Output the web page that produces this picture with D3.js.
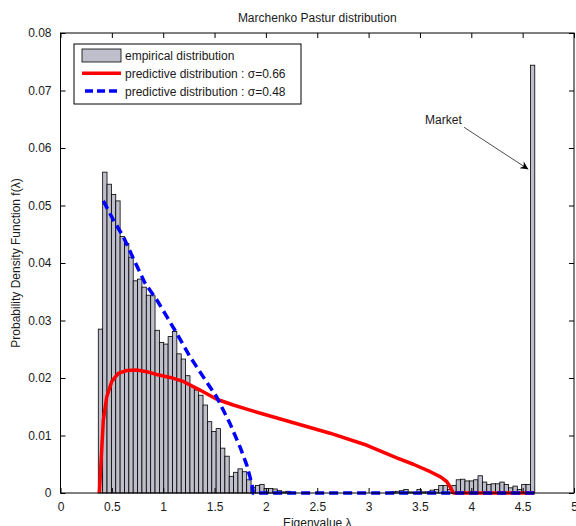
<!DOCTYPE html>
<html>
<head>
<meta charset="utf-8">
<script src="https://cdn.jsdelivr.net/npm/d3@7/dist/d3.min.js"></script>
<style>
  body { margin: 0; background: #fff; }
  text { font-family: Arial, "Liberation Sans", sans-serif; }
</style>
</head>
<body>
<div id="chart"></div>
<script>
var w = 576,
	h = 526;

//Histogram bins (eigenvalue range split into 100 bins)
var binStart = 0.368;
var binWidth = 0.0425;
var binHeights = [
  0.0285, 0.0558, 0.0537, 0.0519, 0.0508, 0.0446, 0.0434, 0.0410, 0.0369, 0.0372,
  0.0358, 0.0344, 0.0343, 0.0283, 0.0262, 0.0259, 0.0272, 0.0281, 0.0242, 0.0233,
  0.0204, 0.0185, 0.0179, 0.0170, 0.0153, 0.0124, 0.0107, 0.0112, 0.0078, 0.0064,
  0.0029, 0.0036, 0.0042, 0.0037, 0.0023, 0.0010, 0.0013, 0.0015, 0.0008, 0.0008,
  0.0007, 0.0004, 0.0002, 0.0003, 0.0001, 0, 0, 0, 0, 0,
  0, 0, 0, 0, 0, 0, 0, 0, 0, 0,
  0, 0, 0, 0, 0, 0, 0, 0.0002, 0.0003, 0.0004,
  0.0006, 0.0002, 0.0001, 0.0006, 0.0002, 0.0002, 0.0005, 0.0006, 0.0013, 0.0013,
  0.0006, 0.0013, 0.0023, 0.0024, 0.0021, 0.0021, 0.0023, 0.0030, 0.0019, 0.0015,
  0.0016, 0.0016, 0.0019, 0.0015, 0.0009, 0.0012, 0.0006, 0.0015, 0.0015, 0.0744
];

//Predictive distribution, sigma = 0.66 (red)
var redX = [0.378, 0.401, 0.417, 0.450, 0.499, 0.563, 0.645, 0.742, 0.839, 0.937,
  1.067, 1.196, 1.358, 1.521, 1.683, 1.845, 2.040, 2.235, 2.624, 2.984,
  3.274, 3.435, 3.600, 3.700, 3.760, 3.792, 3.819, 3.827, 4.617];
var redY = [0, 0.0075, 0.0127, 0.0167, 0.0194, 0.0208, 0.0213, 0.0214, 0.0211, 0.0206,
  0.0201, 0.0194, 0.0179, 0.0163, 0.0153, 0.0144, 0.0134, 0.0124, 0.0104, 0.0083,
  0.0061, 0.0050, 0.0037, 0.0028, 0.0020, 0.0011, 0.0002, 0, 0];

//Predictive distribution, sigma = 0.48 (blue dashed)
var blueX = [0.417, 0.514, 0.611, 0.709, 0.823, 0.937, 1.034, 1.131, 1.261, 1.390,
  1.521, 1.650, 1.748, 1.813, 1.845, 1.868, 1.877, 4.617];
var blueY = [0.0508, 0.0475, 0.0446, 0.0408, 0.0365, 0.0336, 0.0307, 0.0278, 0.0237, 0.0202,
  0.0167, 0.0121, 0.0080, 0.0049, 0.0028, 0.0011, 0, 0];

//Tick labels
var xTicks = [0, 0.5, 1, 1.5, 2, 2.5, 3, 3.5, 4, 4.5, 5];
var yTicks = [0, 0.01, 0.02, 0.03, 0.04, 0.05, 0.06, 0.07, 0.08];

//Legend titles
var LegendOptions = ['empirical distribution',
  'predictive distribution : \u03c3=0.66',
  'predictive distribution : \u03c3=0.48'];

var barFill = '#bfbfcc';

var padL = 60.5, padR = 574, padT = 33, padB = 493;

var x = d3.scaleLinear().domain([0, 5]).range([padL, padR]);
var y = d3.scaleLinear().domain([0, 0.08]).range([padB, padT]);

var svg = d3.select('#chart')
	.append('svg')
	.attr('width', w)
	.attr('height', h);

//Histogram bars
svg.append('g')
	.selectAll('rect')
	.data(binHeights)
	.enter()
	.append('rect')
	.attr('x', function(d, i) { return x(binStart + i * binWidth); })
	.attr('y', function(d) { return y(d); })
	.attr('width', function(d, i) { return x(binStart + (i + 1) * binWidth) - x(binStart + i * binWidth); })
	.attr('height', function(d) { return y(0) - y(d); })
	.attr('fill', barFill)
	.attr('stroke', '#000')
	.attr('stroke-width', 0.8);

var line = d3.line()
	.x(function(d) { return x(d[0]); })
	.y(function(d) { return y(d[1]); });

//Red curve
svg.append('path')
	.datum(d3.zip(redX, redY))
	.attr('d', line)
	.attr('fill', 'none')
	.attr('stroke', '#ff0000')
	.attr('stroke-width', 3.5)
	.attr('stroke-linejoin', 'round');

//Blue dashed curve
svg.append('path')
	.datum(d3.zip(blueX, blueY))
	.attr('d', line)
	.attr('fill', 'none')
	.attr('stroke', '#0000ff')
	.attr('stroke-width', 3.5)
	.attr('stroke-dasharray', '9,5');

//Axes box with inward ticks on all sides
svg.append('rect')
	.attr('x', padL)
	.attr('y', padT)
	.attr('width', padR - padL)
	.attr('height', padB - padT)
	.attr('fill', 'none')
	.attr('stroke', '#000')
	.attr('stroke-width', 1);

svg.append('g')
	.attr('transform', 'translate(0,' + padB + ')')
	.call(d3.axisBottom(x).tickValues(xTicks).tickSizeInner(-5).tickSizeOuter(0).tickPadding(9)
		.tickFormat(function(d) { return d3.format('')(d); }))
	.call(function(g) { g.select('.domain').remove(); });

svg.append('g')
	.attr('transform', 'translate(0,' + padT + ')')
	.call(d3.axisTop(x).tickValues(xTicks).tickSizeInner(-5).tickSizeOuter(0).tickFormat(''))
	.call(function(g) { g.select('.domain').remove(); });

svg.append('g')
	.attr('transform', 'translate(' + padL + ',0)')
	.call(d3.axisLeft(y).tickValues(yTicks).tickSizeInner(-5).tickSizeOuter(0).tickPadding(9)
		.tickFormat(function(d) { return d3.format('')(d); }))
	.call(function(g) { g.select('.domain').remove(); });

svg.append('g')
	.attr('transform', 'translate(' + padR + ',0)')
	.call(d3.axisRight(y).tickValues(yTicks).tickSizeInner(-5).tickSizeOuter(0).tickFormat(''))
	.call(function(g) { g.select('.domain').remove(); });

svg.selectAll('.tick text')
	.attr('font-size', '12px')
	.attr('font-family', 'Arial, "Liberation Sans", sans-serif')
	.attr('fill', '#1a1a1a');

//Title and axis labels
svg.append('text')
	.attr('x', (padL + padR) / 2)
	.attr('y', 22)
	.attr('text-anchor', 'middle')
	.attr('font-size', '12px')
	.attr('fill', '#1a1a1a')
	.text('Marchenko Pastur distribution');

svg.append('text')
	.attr('x', (padL + padR) / 2)
	.attr('y', 527)
	.attr('text-anchor', 'middle')
	.attr('font-size', '12px')
	.attr('fill', '#1a1a1a')
	.text('Eigenvalue \u03bb');

svg.append('text')
	.attr('transform', 'translate(20,' + ((padT + padB) / 2) + ') rotate(-90)')
	.attr('text-anchor', 'middle')
	.attr('font-size', '12px')
	.attr('fill', '#1a1a1a')
	.text('Probability Density Function f(\u03bb)');

//Market annotation
svg.append('defs').append('marker')
	.attr('id', 'arrow')
	.attr('viewBox', '0 0 10 10')
	.attr('refX', 10)
	.attr('refY', 5)
	.attr('markerWidth', 10)
	.attr('markerHeight', 8)
	.attr('markerUnits', 'userSpaceOnUse')
	.attr('orient', 'auto')
	.append('path')
	.attr('d', 'M0,0 L10,5 L0,10 L3,5 Z')
	.attr('fill', '#000');

svg.append('text')
	.attr('x', x(3.55))
	.attr('y', y(0.0642))
	.attr('font-size', '12px')
	.attr('fill', '#1a1a1a')
	.text('Market');

svg.append('line')
	.attr('x1', x(3.93))
	.attr('y1', y(0.0636))
	.attr('x2', x(4.555))
	.attr('y2', y(0.0563))
	.attr('stroke', '#000')
	.attr('stroke-width', 0.7)
	.attr('marker-end', 'url(#arrow)');

//Initiate Legend
var legend = svg.append('g')
	.attr('class', 'legend');

legend.append('rect')
	.attr('x', 74)
	.attr('y', 44)
	.attr('width', 227)
	.attr('height', 60)
	.attr('fill', '#fff')
	.attr('stroke', '#000')
	.attr('stroke-width', 1);

legend.append('rect')
	.attr('x', 82)
	.attr('y', 49)
	.attr('width', 39)
	.attr('height', 13)
	.attr('fill', barFill)
	.attr('stroke', '#000')
	.attr('stroke-width', 0.8);

legend.append('line')
	.attr('x1', 82).attr('x2', 121)
	.attr('y1', 73.3).attr('y2', 73.3)
	.attr('stroke', '#ff0000')
	.attr('stroke-width', 3.5);

legend.append('line')
	.attr('x1', 85).attr('x2', 121)
	.attr('y1', 91).attr('y2', 91)
	.attr('stroke', '#0000ff')
	.attr('stroke-width', 3.5)
	.attr('stroke-dasharray', '8,4');

legend.selectAll('text.item')
	.data(LegendOptions)
	.enter()
	.append('text')
	.attr('class', 'item')
	.attr('x', 125)
	.attr('y', function(d, i) { return 60 + i * 18; })
	.attr('font-size', '12px')
	.attr('fill', '#1a1a1a')
	.text(function(d) { return d; });
</script>
</body>
</html>
